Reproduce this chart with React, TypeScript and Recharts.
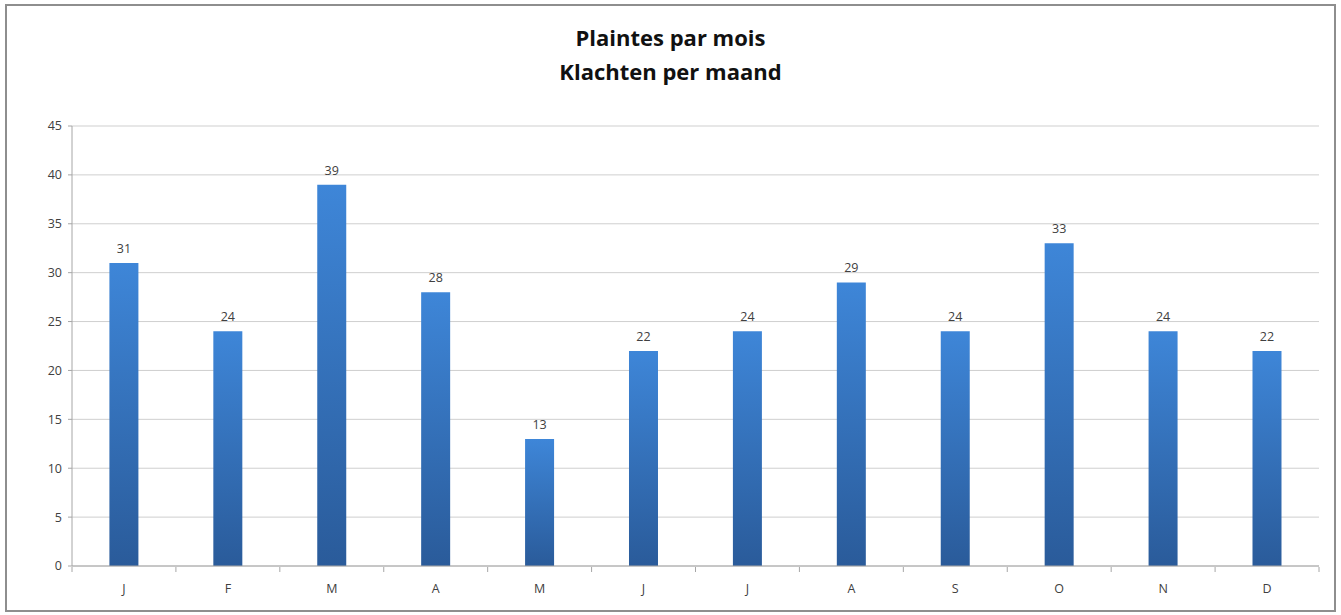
import React from 'react';
import { BarChart, Bar, XAxis, YAxis, CartesianGrid, LabelList } from 'recharts';

// months, first letters as in the original sheet
const months = ['J', 'F', 'M', 'A', 'M', 'J', 'J', 'A', 'S', 'O', 'N', 'D'];
const complaints = [31, 24, 39, 28, 13, 22, 24, 29, 24, 33, 24, 22];
const yTicks = [0, 5, 10, 15, 20, 25, 30, 35, 40, 45];

const data = months.map((m, i) => ({ key: `${m}-${i}`, month: m, value: complaints[i] }));

const AXIS_COLOR = '#a6a6a6';
const TEXT_COLOR = '#404040';

// Excel puts the category ticks between the bars, not under them
const MonthTick: React.FC<any> = ({ x, y, payload, index }) => {
  const half = payload?.offset || 52;
  const last = index === months.length - 1;
  return (
    <g>
      <line x1={x - half} x2={x - half} y1={y - 13} y2={y - 8} stroke={AXIS_COLOR} />
      {last && <line x1={x + half} x2={x + half} y1={y - 13} y2={y - 8} stroke={AXIS_COLOR} />}
      <text x={x} y={y + 13} textAnchor="middle" fill={TEXT_COLOR} fontSize={12.5}>
        {months[index]}
      </text>
    </g>
  );
};

const App: React.FC = () => {
  return (
    <div
      style={{
        position: 'absolute',
        left: 5,
        top: 4,
        width: 1327,
        height: 604,
        border: '2px solid #8e8e8e',
        background: '#fff',
        fontFamily: '"Open Sans", sans-serif',
      }}
    >
      <div
        style={{
          position: 'absolute',
          left: 0,
          right: 0,
          top: 14,
          textAlign: 'center',
          fontWeight: 700,
          fontSize: 22,
          lineHeight: '34px',
          color: '#111',
        }}
      >
        <div>Plaintes par mois</div>
        <div>Klachten per maand</div>
      </div>
      <BarChart
        width={1327}
        height={604}
        data={data}
        margin={{ top: 120, right: 15, bottom: 14, left: 0 }}
        barCategoryGap="36%"
      >
        <defs>
          <linearGradient id="barFill" x1="0" y1="0" x2="0" y2="1">
            <stop offset="0%" stopColor="#3e86d8" />
            <stop offset="100%" stopColor="#2a5b9a" />
          </linearGradient>
        </defs>
        <CartesianGrid vertical={false} stroke="#cfcfcf" />
        <XAxis
          dataKey="key"
          stroke={AXIS_COLOR}
          tick={<MonthTick />}
          interval={0}
          tickLine={false}
          tickMargin={8}
          height={30}
        />
        <YAxis
          width={65}
          domain={[0, 45]}
          ticks={yTicks}
          interval={0}
          stroke={AXIS_COLOR}
          tick={{ fill: TEXT_COLOR, fontSize: 12.5 }}
          tickSize={4}
          tickMargin={6}
        />
        <Bar dataKey="value" fill="url(#barFill)" isAnimationActive={false}>
          <LabelList dataKey="value" position="top" offset={10} fill={TEXT_COLOR} fontSize={12.5} />
        </Bar>
      </BarChart>
    </div>
  );
};

export default App;
